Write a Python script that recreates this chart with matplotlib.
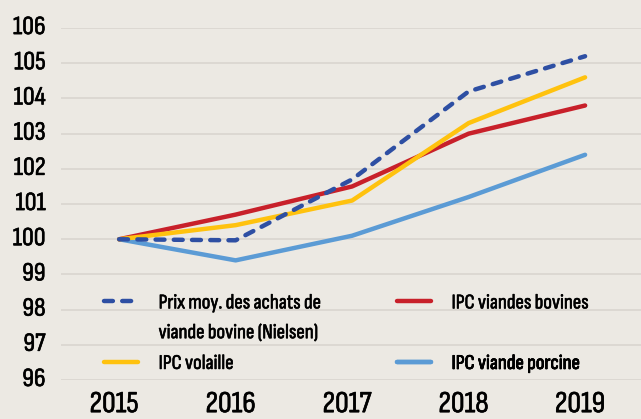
import matplotlib
matplotlib.use("Agg")
import matplotlib.pyplot as plt
import matplotlib.patheffects as pe
import matplotlib.transforms as mtransforms
from matplotlib.lines import Line2D

years = [2015, 2016, 2017, 2018, 2019]
nielsen = [100.0, 99.97, 101.7, 104.2, 105.2]
volaille = [100.0, 100.4, 101.1, 103.3, 104.6]
bovines = [100.0, 100.7, 101.5, 103.0, 103.8]
porcine = [100.0, 99.4, 100.1, 101.2, 102.4]

labels = ["Prix moy. des achats de", "IPC volaille",
          "IPC viandes bovines", "IPC viande porcine"]
label2 = "viande bovine (Nielsen)"
yticks = [96, 97, 98, 99, 100, 101, 102, 103, 104, 105, 106]

bg = "#ece9e3"
c_nielsen = "#2e4fa3"
c_vol = "#ffc20e"
c_bov = "#c8202a"
c_porc = "#5b9bd5"

plt.rcParams["font.family"] = ["Sofia Sans Condensed", "DejaVu Sans"]
bold = [pe.withStroke(linewidth=0.45, foreground="black")]

fig = plt.figure(figsize=(6.41, 4.19), dpi=100, facecolor=bg)
ax = fig.add_axes([0.095, 0.093, 0.905, 0.84])
ax.set_facecolor(bg)

lw = 3.2
dash = (2.0, 2.1)
ax.plot(years, porcine, color=c_porc, lw=lw, solid_capstyle="round", solid_joinstyle="round")
ax.plot(years, bovines, color=c_bov, lw=lw, solid_capstyle="round", solid_joinstyle="round")
ax.plot(years, volaille, color=c_vol, lw=lw, solid_capstyle="round", solid_joinstyle="round")
ax.plot(years, nielsen, color=c_nielsen, lw=lw, dashes=dash, dash_capstyle="round")

ax.set_xlim(2014.5, 2019.48)
ax.set_ylim(96, 106)
ax.set_yticks(yticks)
ax.set_xticks(years)
ax.grid(axis="y", color="#dbd7d1", lw=1.3)
ax.set_axisbelow(True)
for s in ax.spines.values():
    s.set_visible(False)
ax.tick_params(axis="y", length=0, labelsize=19, pad=11)
ax.tick_params(axis="x", length=0, labelsize=22, pad=8)

shift_x = mtransforms.ScaledTranslation(-5 / 100, 0, fig.dpi_scale_trans)
shift_y = mtransforms.ScaledTranslation(0, 3 / 100, fig.dpi_scale_trans)
for t in ax.get_xticklabels():
    t.set_transform(t.get_transform() + shift_x)
    t.set_path_effects(bold)
for t in ax.get_yticklabels():
    t.set_transform(t.get_transform() + shift_y)
    t.set_path_effects(bold)

# legend, one entry per box so rows line up like the original
handles = [
    Line2D([], [], color=c_nielsen, lw=lw, dashes=dash, dash_capstyle="round"),
    Line2D([], [], color=c_vol, lw=lw, solid_capstyle="round"),
    Line2D([], [], color=c_bov, lw=lw, solid_capstyle="round"),
    Line2D([], [], color=c_porc, lw=lw, solid_capstyle="round"),
]
spots = [(0.075, 0.245), (0.075, 0.073), (0.58, 0.245), (0.58, 0.073)]
legs = []
for h, lab, pos in zip(handles, labels, spots):
    leg = ax.legend([h], [lab], loc="upper left", bbox_to_anchor=pos, frameon=False,
                    fontsize=15, handlelength=1.6, handletextpad=1.0, borderpad=0,
                    borderaxespad=0)
    for t in leg.get_texts():
        t.set_path_effects(bold)
    ax.add_artist(leg)
    legs.append(leg)

first = legs[0].get_texts()[0]
ax.annotate(label2, xy=(0, 0), xycoords=first, xytext=(0, -8.5), textcoords="offset points",
            ha="left", va="top", fontsize=15, path_effects=bold, zorder=10,
            annotation_clip=False)

fig.savefig("out.png", dpi=100, facecolor=bg)
